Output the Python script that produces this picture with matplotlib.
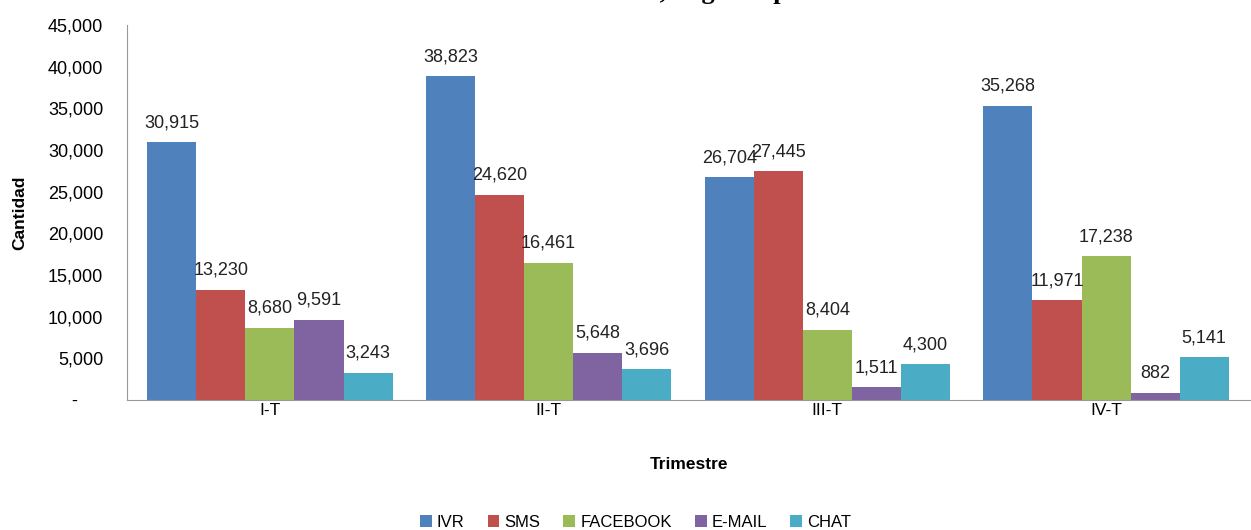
import numpy as np
import matplotlib.pyplot as plt
from matplotlib.ticker import FuncFormatter

plt.rcParams['font.family'] = ['Liberation Sans', 'DejaVu Sans']

quarters = ["I-T", "II-T", "III-T", "IV-T"]
channels = ["IVR", "SMS", "FACEBOOK", "E-MAIL", "CHAT"]
ivr = [30915, 38823, 26704, 35268]
sms = [13230, 24620, 27445, 11971]
facebook = [8680, 16461, 8404, 17238]
email = [9591, 5648, 1511, 882]
chat = [3243, 3696, 4300, 5141]
series = [ivr, sms, facebook, email, chat]
colors = ["#4F81BD", "#C0504D", "#9BBB59", "#8064A2", "#4BACC6"]

fig = plt.figure(figsize=(12.51, 5.30), dpi=100)
ax = fig.add_axes([0.1015, 0.2453, 0.8985, 0.7077])

x = np.arange(len(quarters))
w = 0.176
for i, (name, vals, c) in enumerate(zip(channels, series, colors)):
    pos = x + (i - 2) * w
    bars = ax.bar(pos, vals, w, color=c, label=name)
    for b, v in zip(bars, vals):
        ax.annotate(f"{v:,}", (b.get_x() + b.get_width() / 2, v),
                    xytext=(0, 8), textcoords="offset points",
                    ha="center", va="bottom", fontsize=13, color="#222222")

ax.set_xlim(-0.513, 3.52)
ax.set_ylim(0, 45000)
ax.set_yticks(np.arange(0, 45001, 5000))
ax.yaxis.set_major_formatter(FuncFormatter(lambda v, p: "-     " if v == 0 else f"{int(v):,}"))
ax.set_xticks(x)
ax.set_xticklabels(quarters)
ax.tick_params(axis="y", labelsize=13, length=0, pad=17)
ax.tick_params(axis="x", labelsize=12.5, length=0, pad=2)
for s in ["top", "right"]:
    ax.spines[s].set_visible(False)
for s in ["left", "bottom"]:
    ax.spines[s].set_color("#999999")

ax.set_ylabel("Cantidad", fontsize=12.5, fontweight="bold")
ax.set_xlabel("Trimestre", fontsize=12.5, fontweight="bold", labelpad=28)
ax.yaxis.set_label_coords(-0.089, 0.5)

# title sits mostly above the top edge, only descenders show
fig.text(0.640, 1.002, "Cantidad de atenciones 2013,  según  tipo", ha="right", va="baseline",
         fontsize=19, fontweight="bold", family="Liberation Serif")

fig.legend(loc="lower center", ncol=5, frameon=False, fontsize=12,
           bbox_to_anchor=(0.508, -0.028), handlelength=0.7, handleheight=0.7,
           handletextpad=0.3, columnspacing=1.4)

fig.savefig("out.png", dpi=100)
